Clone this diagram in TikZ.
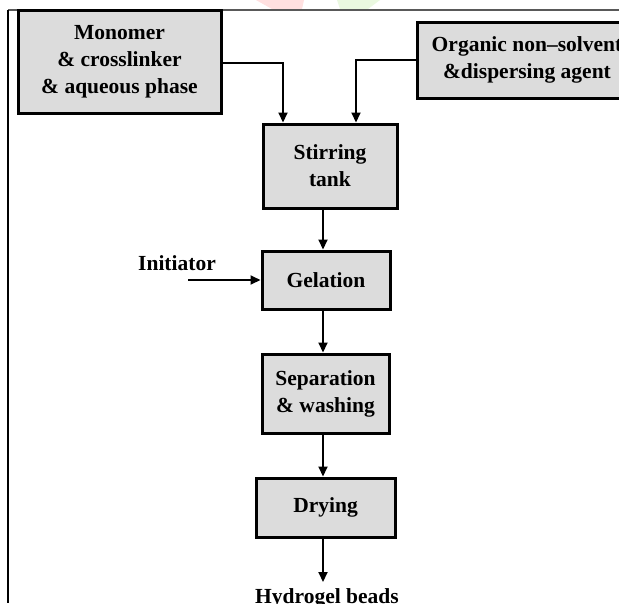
\documentclass[tikz,border=0pt]{standalone}
\usepackage{fontspec}
\setmainfont{Liberation Serif}
\usetikzlibrary{arrows.meta}
\tikzset{
  box/.style={draw=black, line width=3pt, fill=boxgray, align=center,
    font=\bfseries\fontsize{21.5}{27}\selectfont, inner sep=0pt},
  lbl/.style={font=\bfseries\fontsize{21.5}{27}\selectfont, inner sep=0pt},
  arr/.style={draw=black, line width=2pt, -{Triangle[length=10pt,width=9pt]}}
}
\definecolor{boxgray}{HTML}{DCDCDC}
\definecolor{wmpink}{HTML}{FFE0E0}
\definecolor{wmgreen}{HTML}{EAF8E0}
\begin{document}
\begin{tikzpicture}[x=1pt,y=-1pt]
\useasboundingbox[fill=white] (0,0) rectangle (619,603);
% faint watermark
\fill[wmpink] (256,0) -- (304,0) -- (302,9) -- (272,9) -- cycle;
\fill[wmgreen] (337,0) -- (380,0) -- (368,9) -- (340,9) -- cycle;
% frame
\draw[line width=2pt, black!65] (8,10) -- (619,10);
\draw[line width=1.5pt, black] (8,10) -- (8,603);
% boxes
\node[box, minimum width=203pt, minimum height=103pt] (mono) at (119.5,61.5)
  {Monomer\\ \& crosslinker\\ \& aqueous phase};
\node[box, minimum width=220pt, minimum height=76pt] (org) at (527,60)
  {Organic non–solvent\\ \&dispersing agent};
\node[box, minimum width=134pt, minimum height=84pt] (stir) at (330,166)
  {Stirring\\ tank};
\node[box, minimum width=128pt, minimum height=58pt] (gel) at (326,280)
  {Gelation};
\node[box, minimum width=127pt, minimum height=79pt] (sep) at (325.5,393.5)
  {Separation\\ \& washing};
\node[box, minimum width=139pt, minimum height=59pt] (dry) at (325.5,507.5)
  {Drying};
\node[lbl] (init) at (177,263) {Initiator};
\node[lbl, anchor=base] (beads) at (327,603) {Hydrogel beads};
\coordinate (initstart) at (188,280);
\coordinate (beadsend) at (323,582);
% connectors
\draw[arr] ([yshift=-1.5pt]mono.east) -| ([xshift=-47pt]stir.north);
\draw[arr] (org.west) -| ([xshift=26pt]stir.north);
\draw[arr] ([xshift=-7pt]stir.south) -- ([xshift=-3pt]gel.north);
\draw[arr] (initstart) -- (gel.west);
\draw[arr] ([xshift=-3pt]gel.south) -- ([xshift=-2.5pt]sep.north);
\draw[arr] ([xshift=-2.5pt]sep.south) -- ([xshift=-2.5pt]dry.north);
\draw[arr] ([xshift=-2.5pt]dry.south) -- (beadsend);
\end{tikzpicture}
\end{document}
